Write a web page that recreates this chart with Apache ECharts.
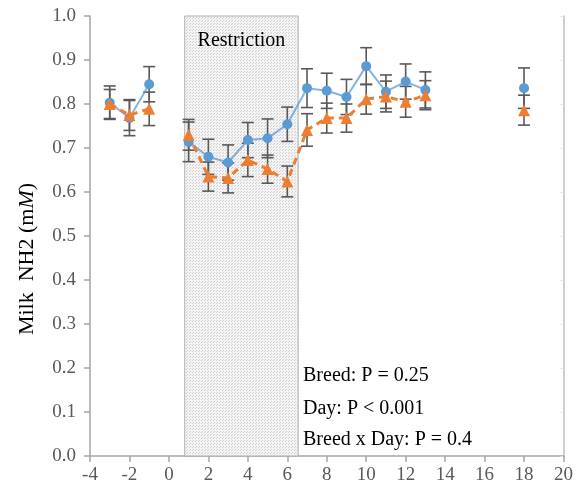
<!DOCTYPE html>
<html>
<head>
<meta charset="utf-8">
<script src="https://cdn.jsdelivr.net/npm/echarts@6/dist/echarts.min.js"></script>
<style>
html,body{margin:0;padding:0;background:#fff;}
#chart{width:576px;height:495px;}
</style>
</head>
<body>
<div id="chart"></div>
<script>
// 数据
var days        = [-3, -2, -1, 1, 2, 3, 4, 5, 6, 7, 8, 9, 10, 11, 12, 13, 18];
var blueMean    = [0.803, 0.768, 0.845, 0.714, 0.680, 0.667, 0.718, 0.722, 0.754, 0.836, 0.830, 0.816, 0.886, 0.828, 0.851, 0.832, 0.836];
var blueSE      = [0.038, 0.040, 0.040, 0.045, 0.040, 0.040, 0.040, 0.044, 0.039, 0.044, 0.040, 0.040, 0.042, 0.038, 0.040, 0.041, 0.046];
var orangeMean  = [0.800, 0.775, 0.789, 0.730, 0.635, 0.632, 0.673, 0.652, 0.624, 0.741, 0.768, 0.768, 0.811, 0.817, 0.805, 0.820, 0.786];
var orangeSE    = [0.033, 0.035, 0.038, 0.035, 0.033, 0.034, 0.038, 0.032, 0.035, 0.037, 0.034, 0.032, 0.034, 0.035, 0.035, 0.033, 0.034];
var restriction = [0.8, 6.55];
var pLabels     = ['Breed: P = 0.25', 'Day: P < 0.001', 'Breed x Day: P = 0.4'];

var blue = '#5B9BD5';
var orange = '#ED7D31';
var serif = '"Liberation Serif", "Times New Roman", serif';

//断开不连续的天数
function lineData(means){
    var out = [];
    for (var i = 0; i < days.length; i++) {
        if (i > 0 && days[i] - days[i-1] > 1) out.push([days[i] - 1, '-']);
        out.push([days[i], means[i]]);
    }
    return out;
}
function errData(means, se){
    var out = [];
    for (var i = 0; i < days.length; i++) out.push([days[i], means[i] - se[i], means[i] + se[i]]);
    return out;
}
function renderErr(params, api){
    var x = api.value(0);
    var lo = api.coord([x, api.value(1)]);
    var hi = api.coord([x, api.value(2)]);
    var w = 6;
    var st = {stroke: '#595959', lineWidth: 1.6};
    return {type: 'group', children: [
        {type: 'line', shape: {x1: lo[0], y1: lo[1], x2: hi[0], y2: hi[1]}, style: st},
        {type: 'line', shape: {x1: lo[0]-w, y1: lo[1], x2: lo[0]+w, y2: lo[1]}, style: st},
        {type: 'line', shape: {x1: hi[0]-w, y1: hi[1], x2: hi[0]+w, y2: hi[1]}, style: st}
    ]};
}

//点状填充
var pat = document.createElement('canvas');
pat.width = 3; pat.height = 3;
var pc = pat.getContext('2d');
pc.fillStyle = '#f3f3f3'; pc.fillRect(0, 0, 3, 3);
pc.fillStyle = '#d0d0d0'; pc.fillRect(0, 0, 1, 1); pc.fillRect(1, 2, 1, 1);

var myChart = echarts.init(document.getElementById('chart'));
var option = {
    animation: false,
    grid: {left: 90, right: 11, top: 16, bottom: 39},
    xAxis: {
        type: 'value', min: -4, max: 20, interval: 2,
        axisLine: {onZero: false, lineStyle: {color: '#a6a6a6', width: 1.5}},
        axisTick: {show: true, length: 6, lineStyle: {color: '#a6a6a6', width: 1.5}},
        axisLabel: {color: '#595959', fontSize: 19, fontFamily: serif, margin: 10},
        splitLine: {show: false}
    },
    yAxis: [{
        type: 'value', min: 0, max: 1, interval: 0.1,
        name: '{a|Milk  NH2 (m}{b|M}{a|)}', nameLocation: 'middle', nameGap: 52,
        nameTextStyle: {
            padding: [0, 46, 0, 0],
            rich: {
                a: {color: '#000', fontSize: 22, fontFamily: serif},
                b: {color: '#000', fontSize: 22, fontFamily: serif, fontStyle: 'italic'}
            }
        },
        axisLine: {show: true, onZero: false, lineStyle: {color: '#a6a6a6', width: 1.5}},
        axisTick: {show: true, length: 6, lineStyle: {color: '#a6a6a6', width: 1.5}},
        axisLabel: {color: '#595959', fontSize: 19, fontFamily: serif, margin: 14,
            formatter: function(v){ return v.toFixed(1); }},
        splitLine: {show: false}
    }, {
        type: 'value', min: 0, max: 1, interval: 0.1, position: 'right',
        axisLine: {show: true, onZero: false, lineStyle: {color: '#bfbfbf', width: 1.5}},
        axisTick: {show: true, inside: true, length: 3, lineStyle: {color: '#e6e6e6'}},
        axisLabel: {show: false},
        splitLine: {show: false}
    }],
    graphic: [
        {type: 'text', left: 303, top: 366, style: {text: pLabels[0], fill: '#000', font: '20px ' + serif}},
        {type: 'text', left: 303, top: 399, style: {text: pLabels[1], fill: '#000', font: '20px ' + serif}},
        {type: 'text', left: 303, top: 430, style: {text: pLabels[2], fill: '#000', font: '20px ' + serif}}
    ],
    series: [
        {
            type: 'line', data: [], silent: true,
            markArea: {
                silent: true,
                itemStyle: {color: {image: pat, repeat: 'repeat'}, borderColor: '#b0b0b0', borderWidth: 1},
                label: {show: true, position: 'insideTop', distance: 15, color: '#000', fontSize: 20, fontFamily: serif, formatter: 'Restriction'},
                data: [[{xAxis: restriction[0], yAxis: 1}, {xAxis: restriction[1], yAxis: 0}]]
            }
        },
        {
            name: 'blue', type: 'line', data: lineData(blueMean), z: 3,
            symbol: 'circle', symbolSize: 10, connectNulls: false,
            itemStyle: {color: blue},
            lineStyle: {color: blue, width: 2, opacity: 0.75}
        },
        {
            name: 'orange', type: 'line', data: lineData(orangeMean), z: 4,
            symbol: 'triangle', symbolSize: 12, connectNulls: false,
            itemStyle: {color: orange},
            lineStyle: {color: orange, width: 3, type: [7, 5]}
        },
        {type: 'custom', data: errData(blueMean, blueSE), renderItem: renderErr, z: 2, encode: {x: 0, y: [1, 2]}},
        {type: 'custom', data: errData(orangeMean, orangeSE), renderItem: renderErr, z: 2, encode: {x: 0, y: [1, 2]}}
    ]
};
myChart.setOption(option);
</script>
</body>
</html>
